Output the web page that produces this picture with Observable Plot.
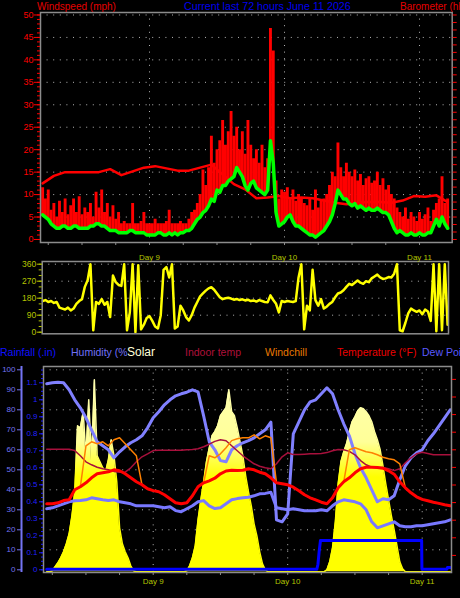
<!DOCTYPE html>
<html><head><meta charset="utf-8">
<script src="https://cdn.jsdelivr.net/npm/d3@7"></script>
<script src="https://cdn.jsdelivr.net/npm/@observablehq/plot@0.6"></script>
<style>
html,body{margin:0;padding:0;background:#000;}
#chart{position:relative;width:460px;height:598px;overflow:hidden;background:#000;font-family:"Liberation Sans",Arial,sans-serif;}
.lbl{position:absolute;white-space:nowrap;line-height:13px;}
.panel{position:absolute;left:0;}
</style></head><body><div id="chart"></div>
<script>
// ---------- DATA (time in hours since Day 8 00:00) ----------
const dayHours = [24, 48, 72];
const dayLabels = ["Day 9", "Day 10", "Day 11"];

// wind, every 0.5 h from 05:00 Day 8
const windStart = 5, windStep = 0.5;
const windGust = [
 11.5, 9, 11, 6.5, 8, 5, 8.5, 6, 9, 5.5, 7.5, 9,
 6, 9.5, 5.5, 7, 6, 8, 5, 10.5, 7, 11, 6, 8,
 5, 7.5, 4.5, 6, 3.5, 4, 3.5, 3.5, 8, 3.5, 3.5, 4,
 6, 3.5, 3.5, 3.5, 4.5, 3.5, 3.5, 3.5, 4, 6.5, 3.5, 3.5,
 3.5, 4, 3.5, 3.5, 4.5, 6, 6.5, 8, 10, 15.5, 12, 16,
 23, 17, 20, 22, 26.5, 21, 24, 28.5, 23, 25, 20, 24,
 19, 26.5, 21, 18, 20, 17, 21, 16, 18, 47, 42, 13,
 9, 11, 10.5, 11.5, 9, 11, 8.5, 10, 9, 8, 7.5, 9,
 6.5, 11, 7, 8.5, 9, 10, 12, 15, 14, 21.5, 16, 14,
 17, 15, 14, 15.5, 13, 14.5, 12, 13.5, 14, 12.5, 13, 15,
 12, 13.5, 11, 12, 10, 9, 7, 6, 5, 7, 4.5, 6,
 5, 4, 6, 4.5, 5.5, 7, 4, 6.5, 8, 9, 14, 8,
 9];
const windSpeed = [
 5.5, 5, 4.5, 3.5, 3, 2.5, 2.5, 3, 3, 2.5, 2.5, 3,
 3, 2.5, 2.5, 2.5, 2.5, 3, 3, 3.5, 3.5, 3, 3, 2.5,
 2, 2, 2, 1.5, 1.5, 1.5, 1.5, 2, 2, 1.5, 1.5, 1.5,
 1.5, 1, 1, 1, 1, 1.5, 1.5, 1, 1, 1.5, 1, 1.5,
 1, 1.5, 1.5, 2, 2, 2.5, 3.5, 4.5, 5, 6, 6.5, 7.5,
 9, 8.5, 11, 10.5, 12, 12, 13, 13.5, 14, 16, 15, 14,
 12, 11, 12.5, 13, 11.5, 11, 10.5, 10, 11, 22, 17, 6,
 3, 3.5, 4, 5, 5.5, 4, 3, 3, 2.5, 2, 1.5, 1,
 1, 0.5, 1, 1.5, 2, 3, 4, 5.5, 8, 11, 10, 9,
 9, 8, 7.5, 8, 7, 7.5, 7, 6.5, 7, 6.5, 6.5, 7,
 6.5, 6, 6, 5.5, 4, 2.5, 1.5, 2, 1.5, 1, 1, 1.5,
 1, 1, 1.5, 1, 1, 1.5, 1.5, 3, 4.5, 3, 5, 3.5,
 2.5];
const windDir = [
 165, 170, 160, 165, 155, 160, 130, 125, 120, 130, 115, 125,
 150, 165, 175, 240, 275, 360, 10, 160, 150, 175, 145, 160,
 80, 300, 265, 250, 245, 360, 10, 105, 360, 0, 355, 15,
 40, 75, 85, 60, 30, 20, 90, 330, 345, 290, 360, 20,
 30, 140, 115, 80, 62, 90, 130, 160, 190, 205, 220, 232,
 238, 225, 205, 185, 175, 180, 182, 178, 172, 176, 170, 174,
 168, 172, 165, 168, 162, 170, 165, 160, 158, 195, 170, 150,
 105, 165, 160, 165, 162, 160, 165, 290, 360, 15, 140, 115,
 330, 170, 140, 175, 125, 135, 150, 160, 185, 205, 210, 222,
 240, 256, 250, 262, 274, 262, 256, 270, 265, 285, 295, 305,
 290, 282, 285, 292, 290, 310, 360, 10, 5, 50, 100, 125,
 115, 108, 115, 95, 120, 110, 60, 360, 5, 360, 10, 360,
 40];

// barometer (hPa), every 2 h
const baroStart = 5, baroStep = 2;
const barometerHpa = [1007.5, 1008.5, 1009.0, 1009.0, 1009.0, 1009.0, 1009.4, 1008.6, 1009.1, 1009.6,
 1009.8, 1009.5, 1009.2, 1009.2, 1009.6, 1010.0, 1008.7, 1007.4, 1006.7, 1005.5,
 1005.6, 1005.8, 1005.5, 1005.6, 1005.5, 1005.2, 1004.9, 1004.7, 1004.9, 1005.0,
 1005.0, 1004.9, 1005.2, 1005.8, 1005.7, 1005.9, 1005.0];
const baroTicksHpa = d3.range(1000, 1031, 1);

// solar, every 0.5 h (read on the 0-100 grid)
const solar = [
 0, 0, 0.5, 2.5, 4.5, 7, 10, 14, 19, 28, 40, 73,
 72, 80, 58, 86, 55, 96, 58, 55, 52, 50, 56, 66,
 58, 45, 22, 14, 10, 7, 3, 0.5, 0, 0, 0, 0,
 0, 0, 0, 0, 0, 0, 0, 0, 0, 0, 0, 0,
 0, 0, 0.5, 3, 7, 13, 26, 36, 45, 55, 62, 68,
 70, 73, 78, 80, 82, 91, 80, 78, 72, 65, 58, 48,
 40, 33, 24, 18, 10, 4, 1, 0, 0, 0, 0, 0,
 0, 0, 0, 0, 0, 0, 0, 0, 0, 0, 0, 0,
 0, 0, 0, 0, 1, 5, 12, 25, 44, 55, 60, 64,
 70, 75, 77.5, 80.5, 82, 81.5, 80, 78, 75, 70, 66, 61,
 53, 44, 36, 28, 21, 13, 5, 1.5, 0, 0, 0, 0,
 0, 0, 0, 0, 0, 0, 0, 0, 0, 0, 0, 0,
 0];

// hourly series from 05:00 Day 8 (read on the 0-100 grid)
const hourlyStart = 5;
const humidity = [93, 93.5, 93.8, 93.5, 90, 85, 81, 76, 70, 64,
 62, 60, 56, 59, 61.5, 63.5, 65, 67, 71, 76,
 79, 82.5, 85, 87, 88, 88.8, 90, 89, 77, 64,
 60, 54.6, 54, 60, 62, 63.5, 64.6, 66, 68, 70,
 73.8, 25, 24, 28, 68, 74, 80, 84, 85, 88,
 91, 88, 80, 73, 67, 58, 51, 46, 40, 34,
 35.5, 35, 37, 45, 52, 56, 58.5, 60, 64.5, 68,
 72, 76, 80];
const dewPoint = [30.5, 31, 32, 33, 34, 34.5, 34.6, 35, 36, 35.5,
 35, 34.6, 35, 34, 33.5, 33, 32, 32, 32, 32,
 31.5, 31, 31.5, 29.6, 29, 30.5, 32, 34, 34.6, 32,
 30.6, 31, 33, 35, 35.6, 36, 36.3, 37, 38, 38.2,
 38.8, 31, 30.5, 30, 30.5, 30, 29.5, 29.5, 29.5, 30,
 29.5, 32, 34, 35, 34.5, 34, 33, 30, 24, 21,
 22, 23, 24, 22, 21.5, 21.5, 22, 22, 22.5, 23,
 23.5, 24, 25];
const temperature = [33, 33, 33.5, 34.6, 35, 40, 41.5, 43.5, 46, 48,
 48.5, 49, 50, 49.5, 48, 46, 44, 42.5, 40.5, 39.6,
 39, 37.5, 35.5, 33.5, 33, 33.5, 37, 41.5, 43.5, 44.5,
 45.8, 48, 49.4, 49.8, 49.6, 49.8, 50.5, 50, 48.8, 48,
 46, 43.5, 43, 42.5, 41.3, 39.5, 37.5, 36, 35, 33.8,
 33, 36, 41, 44, 46, 48.5, 50.5, 51.3, 51.3, 51.2,
 50.8, 49.5, 47.8, 44, 41, 38.5, 36.5, 35.2, 34.5, 33.8,
 33.2, 32.5, 32];
const windChill = [33, 33, 33.5, 34.6, 35, 40, 41.5, 62, 64, 63,
 64, 62, 65, 66, 63, 60, 57, 42.5, 40.5, 39.6,
 39, 37.5, 35.5, 33.5, 33, 33.5, 37, 41.5, 43.5, 57,
 56, 58, 61, 64.6, 65.5, 66, 66, 67.5, 65.5, 67,
 66, 43.5, 43, 42.5, 41.3, 39.5, 37.5, 36, 35, 33.8,
 33, 36, 41, 44, 60, 61, 60, 59, 58.5, 57.5,
 56.3, 55.5, 55, 53, 41, 38.5, 36.5, 35.2, 34.5, 33.8,
 33.2, 32.5, 32];
const indoorTemp = [60.3, 60.3, 60.3, 60.3, 60.3, 59.6, 57, 54, 52.5, 51.3,
 50.5, 50, 49.2, 48.8, 48.8, 51, 54, 56.5, 58, 59.6,
 59.8, 59.8, 59.8, 59.8, 59.8, 60, 60.2, 60.5, 61.5, 62.8,
 64.2, 65, 64.5, 62, 59.5, 57, 55, 53, 51.8, 51,
 50.5, 53, 56.5, 58.5, 57.6, 57.6, 57.8, 58, 58, 58.2,
 58.6, 59.5, 60.2, 60, 59.2, 57.5, 54.6, 52.5, 51.3, 51.2,
 51.2, 50.5, 49.6, 50.5, 53.5, 56, 58, 58.8, 58.2, 57.5,
 57.5, 57.5, 57.5];

// daily rainfall (inches)
const rainHours  = [5, 53.2, 53.4, 53.6, 53.85, 71.9, 71.95, 76.4, 76.5, 77];
const rainInches = [0, 0, 0.03, 0.1, 0.17, 0.17, 0, 0, 0.01, 0.01];
const rainTickLabels = [0, 0.1, 0.2, 0.3, 0.4, 0.5, 0.6, 0.7, 0.8, 0.9, 1, 1.1];
const humidityTicks = [0, 10, 20, 30, 40, 50, 60, 70, 80, 90, 100];

// ---------- TABLES ----------
const windData = windGust.map((g, i) => ({t: windStart + i * windStep, gust: g, speed: windSpeed[i], dir: windDir[i], solar: solar[i]}));
const baroData = barometerHpa.map((p, i) => ({t: baroStart + i * baroStep, hpa: p}));
const hourly = humidity.map((h, i) => ({t: hourlyStart + i, humidity: h, dew: dewPoint[i], temp: temperature[i], chill: windChill[i], indoor: indoorTemp[i]}));
const rainData = rainHours.map((t, i) => ({t, inches: rainInches[i]}));
const dayData = dayHours.map((h, i) => ({h, label: dayLabels[i]}));
const sixHourTicks = d3.range(6, 78, 6);

// ---------- STYLE ----------
const RED = "#ff0000", GREEN = "#00ff00", YELLOW = "#ffff00", OLIVE = "#b4c400";
const LAV = "#8080ff", BLUE = "#0000ff", GRAY = "#8c8c8c";
const FONT = '"Liberation Sans", Arial, sans-serif';
const grid = {stroke: "#b4b4b4", strokeOpacity: 1, strokeDasharray: "1,5.6", strokeWidth: 1};
const frameStyle = {stroke: GRAY, strokeWidth: 1.5};
const baseStyle = {background: "transparent", fontFamily: FONT, overflow: "visible", color: "white"};
const noText = () => "";
const hpaPerUnit = 0.6, hpaBase = 1000;   // barometer -> windspeed-grid
const RAIN_K = 85;                         // rain inches -> 0-100 grid

const chart = document.getElementById("chart");
function place(el, top) { el.classList.add("panel"); el.style.top = top + "px"; chart.appendChild(el); }

// ---------- PANEL 1 : wind speed / gust / barometer ----------
const p1 = Plot.plot({
  width: 460, height: 250,
  marginLeft: 40, marginRight: 8.3, marginTop: 12, marginBottom: 8,
  x: {domain: [4.622, 77.81], label: null},
  y: {domain: [-0.67, 50.55], label: null},
  style: {...baseStyle, fontSize: "9px"},
  marks: [
    Plot.gridY(d3.range(5, 51, 5), grid),
    Plot.gridX(dayHours, grid),
    Plot.ruleX(windData, {x: "t", y1: "speed", y2: "gust", stroke: RED, strokeWidth: 2.9, clip: true}),
    Plot.line(baroData, {x: "t", y: d => (d.hpa - hpaBase) / hpaPerUnit, stroke: RED, strokeWidth: 2.5, clip: true}),
    Plot.line(windData, {x: "t", y: "speed", stroke: GREEN, strokeWidth: 3.5, clip: true}),
    Plot.frame(frameStyle),
    Plot.axisY(d3.range(0, 51, 5), {anchor: "left", tickSize: 6, tickPadding: 1, color: RED, fontSize: 9, label: null}),
    Plot.axisY(d3.range(0, 51, 1), {anchor: "left", tickSize: 3, color: RED, tickFormat: noText, label: null}),
    Plot.axisY(baroTicksHpa.map(p => (p - hpaBase) / hpaPerUnit), {anchor: "right", tickSize: 4, color: RED, tickFormat: noText, label: null}),
    Plot.axisX(sixHourTicks, {anchor: "bottom", tickSize: 3, color: GRAY, tickFormat: noText, label: null})
  ]
});
place(p1, 0);

// ---------- PANEL 2 : wind direction ----------
const p2 = Plot.plot({
  width: 460, height: 90,
  marginLeft: 41.7, marginRight: 12, marginTop: 11, marginBottom: 6.7,
  x: {domain: [4.924, 77.16], axis: null, label: null},
  y: {domain: [-8.5, 374.3], label: null},
  style: {...baseStyle, fontSize: "8.5px"},
  marks: [
    Plot.gridY([90, 180, 270, 360], grid),
    Plot.line(windData, {x: "t", y: "dir", stroke: YELLOW, strokeWidth: 2.5, clip: true}),
    Plot.frame(frameStyle),
    Plot.axisY([0, 90, 180, 270, 360], {anchor: "left", tickSize: 5, tickPadding: 1, color: OLIVE, fontSize: 8.5, label: null}),
    Plot.axisY(d3.range(0, 361, 30), {anchor: "left", tickSize: 3, color: OLIVE, tickFormat: noText, label: null}),
    Plot.text(dayData, {x: "h", text: "label", frameAnchor: "top", dy: -7.5, fill: OLIVE, fontSize: 8})
  ]
});
place(p2, 250);

// ---------- PANEL 3 : rain, humidity, solar, temperatures ----------
const x3 = [4.425, 77.23];
const p3 = Plot.plot({
  width: 460, height: 258,
  marginLeft: 43, marginRight: 9, marginTop: 26, marginBottom: 26,
  x: {domain: x3, label: null},
  y: {domain: [-1.35, 101.65], label: null},
  style: {...baseStyle, fontSize: "8px"},
  marks: [
    Plot.gridY(d3.range(10, 101, 10), grid),
    Plot.gridX(dayHours, grid),
    Plot.areaY(windData, {x: "t", y: "solar", fill: "url(#solarGrad)", dy: 2, clip: true}),
    Plot.line(windData, {x: "t", y: "solar", stroke: "url(#solarGrad)", strokeWidth: 1.5, dy: 2, clip: true}),
    Plot.line(rainData, {x: "t", y: d => d.inches * RAIN_K, stroke: BLUE, strokeWidth: 3, dy: -0.5, clip: true}),
    Plot.line(hourly, {x: "t", y: "dew", stroke: "#7878ff", strokeWidth: 3, clip: true}),
    Plot.line(hourly, {x: "t", y: "humidity", stroke: LAV, strokeWidth: 3, clip: true}),
    Plot.line(hourly, {x: "t", y: "indoor", stroke: "#a8103c", strokeWidth: 1.5, clip: true}),
    Plot.line(hourly, {x: "t", y: "chill", stroke: "#ff8000", strokeWidth: 1.5, clip: true}),
    Plot.line(hourly, {x: "t", y: "temp", stroke: RED, strokeWidth: 3, clip: true}),
    Plot.frame(frameStyle),
    Plot.ruleX([x3[0]], {dx: -22, stroke: "#7474f4", strokeWidth: 2}),
    Plot.axisY(humidityTicks, {anchor: "left", dx: -22, tickSize: 4, tickPadding: 2, color: "#7474f4", fontSize: 8, label: null}),
    Plot.axisY(rainTickLabels.map(r => r * RAIN_K), {anchor: "left", tickSize: 4, tickPadding: 2, color: "#2020ff", fontSize: 8, label: null,
      tickFormat: d => String(+(d / RAIN_K).toFixed(1))}),
    Plot.axisY(d3.range(0, 1.2, 0.025).map(r => r * RAIN_K), {anchor: "left", tickSize: 2, color: "#2020ff", tickFormat: noText, label: null}),
    Plot.axisY(d3.range(7.2, 101.7, 8.8), {anchor: "right", tickSize: 4, color: RED, tickFormat: noText, label: null}),
    Plot.axisX(sixHourTicks, {anchor: "bottom", tickSize: 3, color: GRAY, tickFormat: noText, label: null}),
    Plot.text(dayData, {x: "h", text: "label", frameAnchor: "bottom", dy: 11, fill: OLIVE, fontSize: 8})
  ]
});
const defs = document.createElementNS("http://www.w3.org/2000/svg", "defs");
defs.innerHTML = '<linearGradient id="solarGrad" gradientUnits="userSpaceOnUse" x1="0" y1="40" x2="0" y2="135">' +
  '<stop offset="0" stop-color="#ffffb0"/><stop offset="0.63" stop-color="#ffff98"/><stop offset="1" stop-color="#ffff00"/></linearGradient>';
p3.insertBefore(defs, p3.firstChild);
place(p3, 340);

// ---------- TEXT LABELS ----------
function label(text, left, top, color, size, extra) {
  const d = document.createElement("div");
  d.className = "lbl";
  d.textContent = text;
  d.style.left = left + "px"; d.style.top = top + "px";
  d.style.color = color; d.style.fontSize = size + "px";
  if (extra) Object.assign(d.style, extra);
  chart.appendChild(d);
}
label("Windspeed (mph)", 37, 0, "#e60000", 10);
label("Current last 72 hours June 11 2026", 184, 0, "#0000ee", 10.7);
label("Barometer (hPa)", 400, 0, "#e60000", 10);

label("Rainfall (.in)", 0, 346, "#1010ff", 10.5);
label("Humidity (%)", 71, 346, "#7070f8", 10.5);
label("Solar", 127, 345, "#ffffd8", 12, {background: "#000", lineHeight: "14px"});
label("Indoor temp", 185, 346, "#b0103a", 10.5);
label("Windchill", 265, 346, "#e87800", 10.5);
label("Temperature (°F)", 337, 346, "#ee0000", 10.5);
label("Dew Point (°F)", 422, 346, "#5a5aff", 10.5);
</script></body></html>
